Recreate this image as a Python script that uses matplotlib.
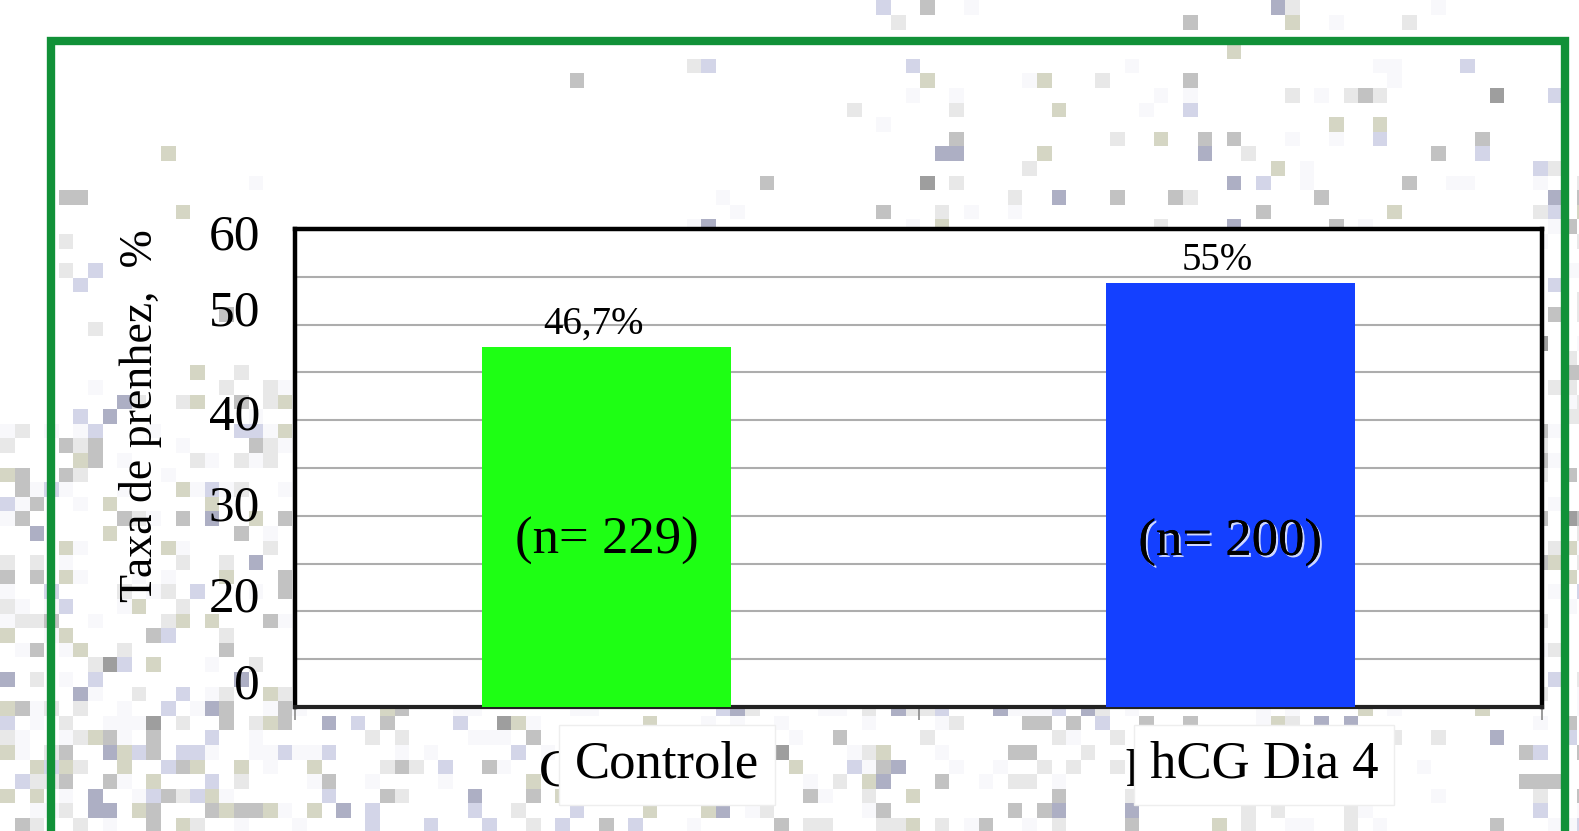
import numpy as np
import matplotlib
matplotlib.use("Agg")
import matplotlib.pyplot as plt
import matplotlib.patheffects as pe
from matplotlib.lines import Line2D
from matplotlib import transforms

# ---- data ----
categories = ["Controle", "hCG Dia 4"]
rates = [46.7, 55.0]
rate_labels = ["46,7%", "55%"]
sample_labels = ["(n= 229)", "(n= 200)"]
y_tick_labels = ["60", "50", "40", "30", "20", "0"]
y_label = "Taxa de prenhez,  %"

bar_colors = ["#1eff14", "#1440ff"]

W, H, DPI = 1579, 831, 100
plt.rcParams["font.family"] = ["Liberation Serif", "DejaVu Serif"]

fig = plt.figure(figsize=(W / DPI, H / DPI), dpi=DPI)
fig.patch.set_facecolor("white")

# ---- pixel mosaic backdrop ----
rng = np.random.default_rng(11)
cell = 14.6
nx, ny = int(np.ceil(W / cell)) + 1, int(np.ceil(H / cell)) + 1
cx = (np.arange(nx) + 0.5) * cell
cy = (np.arange(ny) + 0.5) * cell
CX, CY = np.meshgrid(cx, cy)
dens = np.full(CX.shape, 0.0)
dens += np.where((CY < 230) & (CX > 850) & (CX < 1560) & (CY > 50), 0.12, 0.0)
dens += np.where((CY < 35) & (((CX > 870) & (CX < 1000)) | ((CX > 1160) & (CX < 1450))), 0.15, 0.0)
dens += np.where((CY < 230) & (CX > 540) & (CX < 850) & (CY > 60), 0.03, 0.0)
dens += np.where((CX > 60) & (CX < 295) & (CY > 150) & (CY < 400), 0.07, 0.0)
dens += np.where((CX < 60) & (CY > 380) & (CY < 400), 0.2, 0.0)
dens += np.where((CX < 295) & (CY >= 400), 0.36, 0.0)
dens += np.where((CY > 708) & (CX < 1400), 0.32, 0.0)
dens += np.where((CY > 708) & (CX >= 1400), 0.12, 0.0)
dens += np.where((CX > 1540) & (CY > 180), 0.33, 0.0)
dens = np.clip(dens, 0, 0.6)
palette = np.array([
    [248, 248, 251], [232, 232, 232], [194, 194, 194], [213, 214, 196],
    [211, 213, 232], [173, 175, 196], [158, 158, 158]]) / 255.0
weights = np.array([0.28, 0.25, 0.16, 0.12, 0.12, 0.06, 0.01])
on = rng.random(CX.shape) < dens
pick = rng.choice(len(palette), size=CX.shape, p=weights)
cells = np.ones(CX.shape + (3,))
cells[on] = palette[pick[on]]
yy = (np.arange(H) / cell).astype(int)
xx = (np.arange(W) / cell).astype(int)
backdrop = cells[yy][:, xx]
fig.figimage(backdrop, xo=0, yo=0, origin="upper", zorder=-1)

# ---- main chart ----
left, right, top, bottom = 295, 1542, 229, 707
ax = fig.add_axes([left / W, 1 - bottom / H, (right - left) / W, (bottom - top) / H])
ax.set_facecolor("white")
ymax = 62
ax.set_xlim(-0.5, 1.5)
ax.set_ylim(0, ymax)
x = np.arange(len(categories))
ax.bar(x, rates, width=0.4, color=bar_colors, zorder=3)

ax.set_yticks(np.linspace(0, ymax, 11))
ax.yaxis.grid(True, color="#adadad", linewidth=1.5, zorder=0)
ax.tick_params(axis="y", length=0, labelleft=False)
ax.set_xticks([-0.5, 0.5, 1.5])
ax.tick_params(axis="x", length=9, width=1.2, color="#8a8a8a", labelbottom=False, direction="out")
for side in ["left", "top", "right"]:
    ax.spines[side].set_linewidth(3.2)
    ax.spines[side].set_color("black")
ax.spines["bottom"].set_linewidth(3.0)
ax.spines["bottom"].set_color("#222222")

# y tick labels
tick_y = [0.982, 0.824, 0.607, 0.415, 0.226, 0.044]
for lab, ty in zip(y_tick_labels, tick_y):
    ax.text(-0.028, ty, lab, transform=ax.transAxes, ha="right", va="center",
            fontsize=37, color="black")

# y axis title
fig.text(141 / W, 1 - 416 / H, y_label, rotation=90, ha="center", va="center",
         fontsize=33, color="black")

# value labels above bars
for xi, v, lab in zip(x, rates, rate_labels):
    ax.annotate(lab, xy=(xi, v), xytext=(-13, 4), textcoords="offset pixels",
                ha="center", va="bottom", fontsize=28, color="black", zorder=5)

# sample sizes inside bars
blend = transforms.blended_transform_factory(ax.transData, ax.transAxes)
ax.text(0, 0.347, sample_labels[0], transform=blend, ha="center", va="center",
        fontsize=38, color="black", zorder=5)
ax.text(1, 0.345, sample_labels[1], transform=blend, ha="center", va="center",
        fontsize=38, color="black", zorder=5,
        path_effects=[pe.withSimplePatchShadow(offset=(1.5, -1.5), shadow_rgbFace="white", alpha=0.8),
                      pe.Normal()])

# category labels: faint underlying labels with boxed labels over them
under_dx = [24, 10]
over_dx = [60, 34]
for xi, cat, du, do in zip(x, categories, under_dx, over_dx):
    ax.annotate(cat, xy=(xi, 0), xycoords=("data", "axes fraction"),
                xytext=(du, -66), textcoords="offset pixels", ha="center", va="center",
                fontsize=38, color="black", zorder=4, annotation_clip=False)
    ax.annotate(cat, xy=(xi, 0), xycoords=("data", "axes fraction"),
                xytext=(do, -58), textcoords="offset pixels", ha="center", va="center",
                fontsize=38, color="black", zorder=6, annotation_clip=False,
                bbox=dict(boxstyle="square,pad=0.3", facecolor="white",
                          edgecolor="#eeeeee", linewidth=1.0))

# ---- green frame ----
frame = fig.add_axes([0, 0, 1, 1], zorder=10)
frame.set_xlim(0, W)
frame.set_ylim(H, 0)
frame.axis("off")
frame.patch.set_alpha(0)
frame.add_line(Line2D([51, 51, 1565, 1565], [H + 5, 41, 41, H + 5],
                      color="#119138", linewidth=6, solid_joinstyle="miter"))

fig.savefig("out.png", dpi=DPI, facecolor="white")
